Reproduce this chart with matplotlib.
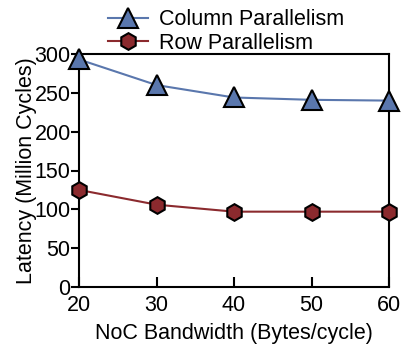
import matplotlib
matplotlib.use('Agg')
import matplotlib.pyplot as plt

plt.rcParams['font.family'] = ['Liberation Sans', 'DejaVu Sans']

bandwidth = [20, 30, 40, 50, 60]
column_par = [293, 260, 244, 241, 240]
row_par = [125, 106, 97, 97, 97]

fig = plt.figure(figsize=(4.11, 3.48), dpi=100)
ax = fig.add_axes([79/411, 1 - 287/348, 310/411, 233/348])

ax.plot(bandwidth, column_par, color='#5a77ad', marker='^', markersize=14,
        markerfacecolor='#5a77ad', markeredgecolor='black', markeredgewidth=1.5,
        linewidth=1.5, label='Column Parallelism', clip_on=False, zorder=3)
ax.plot(bandwidth, row_par, color='#8b2a2e', marker='h', markersize=12,
        markerfacecolor='#8b2a2e', markeredgecolor='black', markeredgewidth=1.5,
        linewidth=1.5, label='Row Parallelism', clip_on=False, zorder=3)

ax.set_xlim(20, 60)
ax.set_ylim(0, 300)
ax.set_xticks(bandwidth)
ax.set_yticks(range(0, 301, 50))
ax.tick_params(axis='x', direction='in', length=7, width=1.5, labelsize=15.5, pad=6)
ax.tick_params(axis='y', direction='out', length=6, width=1.5, labelsize=15.5, pad=0)
for s in ax.spines.values():
    s.set_linewidth(1.5)

ax.set_xlabel('NoC Bandwidth (Bytes/cycle)', fontsize=15.5, labelpad=5)
ax.set_ylabel('Latency (Million Cycles)', fontsize=15.5, labelpad=-2)

ax.legend(loc='lower center', bbox_to_anchor=(0.474, 0.965), frameon=False,
          fontsize=15.5, handlelength=1.85, labelspacing=0.1, handletextpad=0.5,
          borderaxespad=0)

fig.savefig('out.png', dpi=100)
